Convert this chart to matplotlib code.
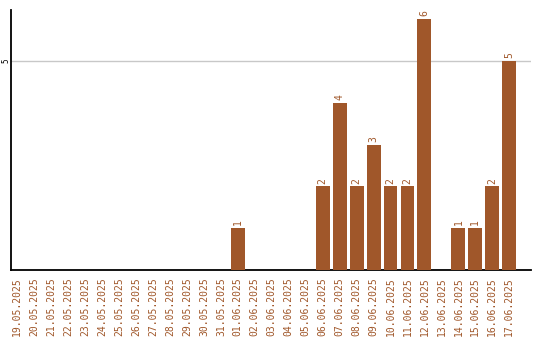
import matplotlib
matplotlib.use("Agg")
import matplotlib.pyplot as plt
import numpy as np

# dates shown on the x axis
dates = ["19.05.2025", "20.05.2025", "21.05.2025", "22.05.2025", "23.05.2025",
         "24.05.2025", "25.05.2025", "26.05.2025", "27.05.2025", "28.05.2025",
         "29.05.2025", "30.05.2025", "31.05.2025", "01.06.2025", "02.06.2025",
         "03.06.2025", "04.06.2025", "05.06.2025", "06.06.2025", "07.06.2025",
         "08.06.2025", "09.06.2025", "10.06.2025", "11.06.2025", "12.06.2025",
         "13.06.2025", "14.06.2025", "15.06.2025", "16.06.2025", "17.06.2025"]
counts = [0, 0, 0, 0, 0, 0, 0, 0, 0, 0, 0, 0, 0, 1, 0,
          0, 0, 0, 2, 4, 2, 3, 2, 2, 6, 0, 1, 1, 2, 5]
yticks = [5]

brown = "#a0572a"
mono = "DejaVu Sans Mono"

fig = plt.figure(figsize=(5.4, 3.4), dpi=100)
ax = fig.add_axes([0.0198, 0.2059, 0.9635, 0.7647])

x = np.arange(len(dates))
ax.bar(x, counts, width=0.82, color=brown, zorder=3)

for xi, c in zip(x, counts):
    if c > 0:
        ax.annotate(str(c), (xi, c), xytext=(0, 2), textcoords="offset points",
                    rotation=90, ha="center", va="bottom", color=brown,
                    fontsize=7, family=mono)

ax.set_xlim(-0.39, len(dates) - 1 + 1.28)
ax.set_ylim(0, 6.22)
ax.set_xticks(x)
ax.set_xticklabels(dates, rotation=90, color=brown, fontsize=7, family=mono)
ax.set_yticks(yticks)
ax.set_yticklabels([str(v) for v in yticks], rotation=90, va="center",
                   fontsize=5.5, family=mono)
ax.tick_params(axis="both", length=0)
ax.tick_params(axis="x", pad=5)
ax.tick_params(axis="y", pad=0.5)
ax.grid(axis="y", color="#c8c8c8", linewidth=1, zorder=0)

for s in ["top", "right"]:
    ax.spines[s].set_visible(False)
for s in ["left", "bottom"]:
    ax.spines[s].set_linewidth(1.3)
    ax.spines[s].set_color("black")

fig.savefig("out.png", dpi=100)
